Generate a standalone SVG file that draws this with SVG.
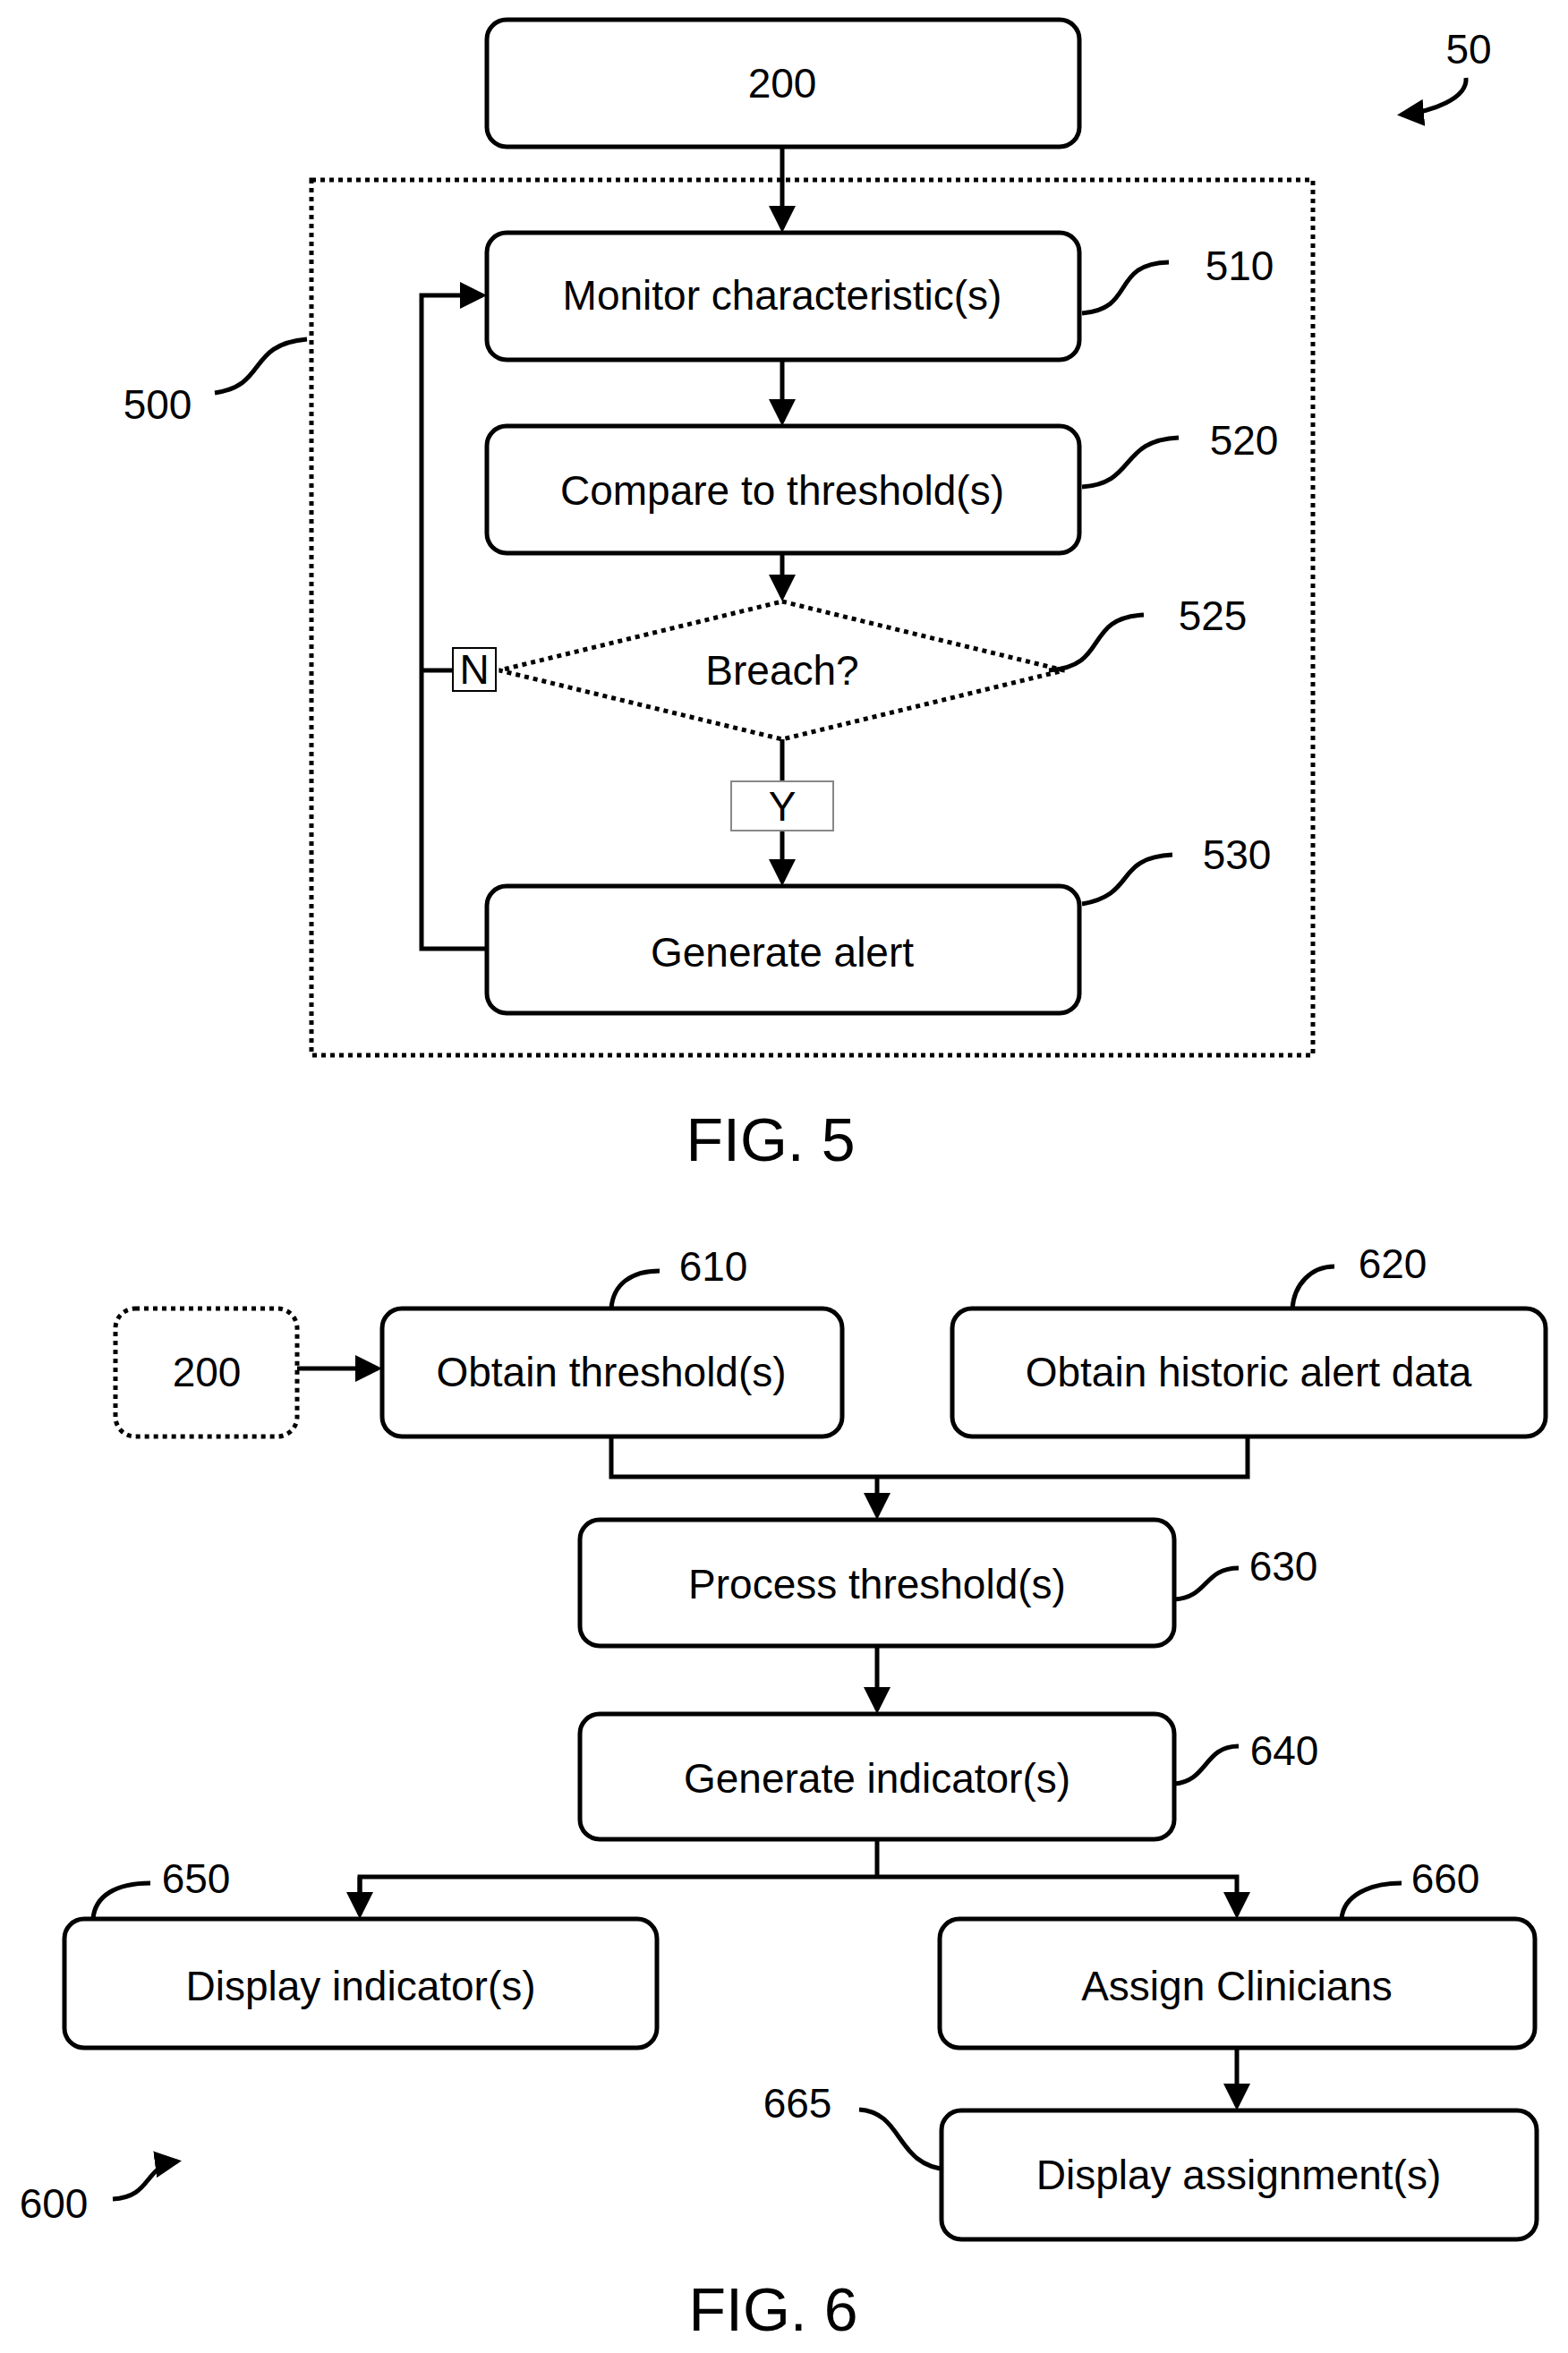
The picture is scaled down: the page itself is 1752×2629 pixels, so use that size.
<svg xmlns="http://www.w3.org/2000/svg" width="1752" height="2629" viewBox="0 0 1752 2629">
<style>
.b{fill:#fff;stroke:#000;stroke-width:5}
.d{fill:none;stroke:#000;stroke-width:5;stroke-dasharray:5 5}
.l{fill:none;stroke:#000;stroke-width:5}
.t{font-family:"Liberation Sans",Arial,sans-serif;font-size:46px;text-anchor:middle;dominant-baseline:central;fill:#000}
.f{font-family:"Liberation Sans",Arial,sans-serif;font-size:68px;text-anchor:middle;dominant-baseline:central;fill:#000}
</style>
<defs><marker id="a" markerWidth="6" markerHeight="6" refX="5" refY="3" orient="auto" markerUnits="strokeWidth"><path d="M0,0L6,3L0,6z"/></marker></defs>
<rect x="0" y="0" width="1752" height="2629" fill="#fff"/>
<g id="connectors">
<path class="l" d="M874,164V255" marker-end="url(#a)"/>
<path class="l" d="M874,402V471" marker-end="url(#a)"/>
<path class="l" d="M874,618V667" marker-end="url(#a)"/>
<path class="l" d="M874,826V873"/>
<path class="l" d="M874,928V985" marker-end="url(#a)"/>
<path class="l" d="M544,1060H471V330H539" marker-end="url(#a)"/>
<path class="l" d="M506,749H471"/>
<path class="l" d="M332,1529H422" marker-end="url(#a)"/>
<path class="l" d="M683,1605V1650H1394V1605"/>
<path class="l" d="M980,1650V1693" marker-end="url(#a)"/>
<path class="l" d="M980,1839V1910" marker-end="url(#a)"/>
<path class="l" d="M980,2055V2097"/>
<path class="l" d="M402,2139V2097H1382V2139" marker-end="url(#a)"/>
<path class="l" d="M402,2097V2139" marker-end="url(#a)"/>
<path class="l" d="M1382,2288V2353" marker-end="url(#a)"/>
<path class="l" d="M1209,350C1270,345 1240,295 1306,293"/>
<path class="l" d="M1209,544C1270,540 1250,492 1317,489"/>
<path class="l" d="M1172,749C1240,745 1210,690 1278,687"/>
<path class="l" d="M1209,1010C1270,1000 1245,958 1310,955"/>
<path class="l" d="M240,439C300,430 275,385 343,379"/>
<path class="l" d="M1638,87C1640,110 1600,125 1566,128" marker-end="url(#a)"/>
<path class="l" d="M683,1462C685,1435 705,1420 737,1420"/>
<path class="l" d="M1444,1462C1446,1435 1465,1415 1491,1415"/>
<path class="l" d="M1312,1787C1350,1785 1345,1752 1384,1752"/>
<path class="l" d="M1312,1993C1350,1990 1345,1951 1384,1951"/>
<path class="l" d="M104,2144C106,2118 130,2104 168,2104"/>
<path class="l" d="M1499,2144C1501,2118 1530,2104 1566,2104"/>
<path class="l" d="M960,2357C1010,2360 1000,2420 1059,2424"/>
<path class="l" d="M126,2457C170,2455 160,2420 198,2415" marker-end="url(#a)"/>
</g>
<g id="n200"><rect class="b" x="544" y="22" width="662" height="142" rx="22"/><text class="t" x="874" y="93">200</text></g>
<g id="n500"><rect class="d" x="348" y="201" width="1119" height="978"/><text class="t" x="176" y="452">500</text></g>
<g id="n510"><rect class="b" x="544" y="260" width="662" height="142" rx="22"/><text class="t" x="874" y="330">Monitor characteristic(s)</text><text class="t" x="1385" y="297">510</text></g>
<g id="n520"><rect class="b" x="544" y="476" width="662" height="142" rx="22"/><text class="t" x="874" y="548">Compare to threshold(s)</text><text class="t" x="1390" y="492">520</text></g>
<g id="n525"><path class="d" d="M874,672L1189,749L874,826L558,749z" fill="#fff"/><text class="t" x="874" y="749">Breach?</text><text class="t" x="1355" y="688">525</text></g>
<g id="nN"><rect x="506" y="724" width="48" height="48" fill="#fff" stroke="#000" stroke-width="2"/><text class="t" x="530" y="748">N</text></g>
<g id="nY"><rect x="817" y="873" width="114" height="55" fill="#fff" stroke="#888" stroke-width="2"/><text class="t" x="874" y="901">Y</text></g>
<g id="n530"><rect class="b" x="544" y="990" width="662" height="142" rx="22"/><text class="t" x="874" y="1064">Generate alert</text><text class="t" x="1382" y="955">530</text></g>
<g id="n50"><text class="t" x="1641" y="55">50</text></g>
<text class="f" x="861" y="1273">FIG. 5</text>
<g id="n200b"><rect class="d" x="129" y="1462" width="203" height="143" rx="22"/><text class="t" x="231" y="1533">200</text></g>
<g id="n610"><rect class="b" x="427" y="1462" width="514" height="143" rx="22"/><text class="t" x="683" y="1533">Obtain threshold(s)</text><text class="t" x="797" y="1415">610</text></g>
<g id="n620"><rect class="b" x="1064" y="1462" width="663" height="143" rx="22"/><text class="t" x="1395" y="1533">Obtain historic alert data</text><text class="t" x="1556" y="1412">620</text></g>
<g id="n630"><rect class="b" x="648" y="1698" width="664" height="141" rx="22"/><text class="t" x="980" y="1770">Process threshold(s)</text><text class="t" x="1434" y="1750">630</text></g>
<g id="n640"><rect class="b" x="648" y="1915" width="664" height="140" rx="22"/><text class="t" x="980" y="1987">Generate indicator(s)</text><text class="t" x="1435" y="1956">640</text></g>
<g id="n650"><rect class="b" x="72" y="2144" width="662" height="144" rx="22"/><text class="t" x="403" y="2219">Display indicator(s)</text><text class="t" x="219" y="2099">650</text></g>
<g id="n660"><rect class="b" x="1050" y="2144" width="665" height="144" rx="22"/><text class="t" x="1382" y="2219">Assign Clinicians</text><text class="t" x="1615" y="2099">660</text></g>
<g id="n665"><rect class="b" x="1052" y="2358" width="665" height="144" rx="22"/><text class="t" x="1384" y="2430">Display assignment(s)</text><text class="t" x="891" y="2350">665</text></g>
<g id="n600"><text class="t" x="60" y="2462">600</text></g>
<text class="f" x="864" y="2580">FIG. 6</text>
</svg>
